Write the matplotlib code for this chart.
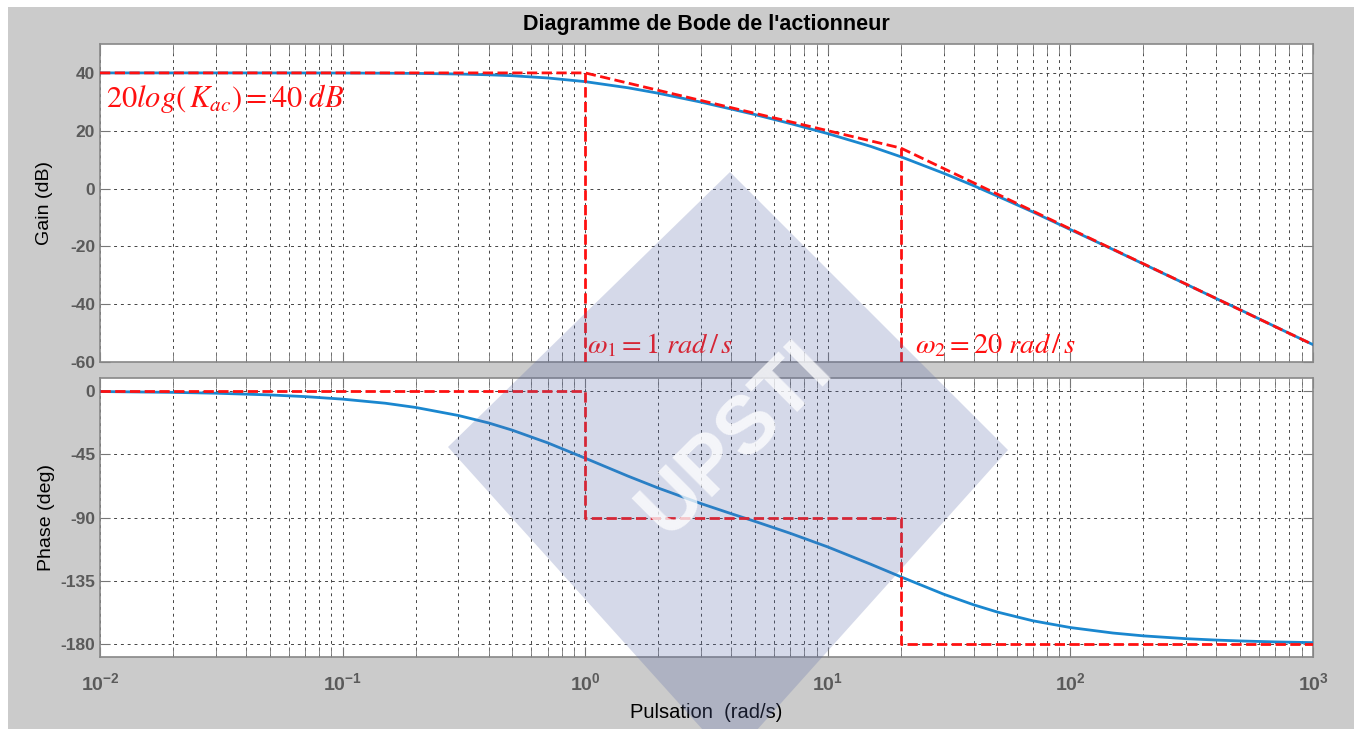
import matplotlib.pyplot as plt
from matplotlib.patches import Rectangle, Polygon
from matplotlib.ticker import LogLocator, NullFormatter

# Frequency response
w = [0.01, 0.02, 0.03, 0.05, 0.07, 0.1, 0.15, 0.2, 0.3, 0.4, 0.5, 0.7, 1, 1.5,
     2, 3, 4, 5, 7, 10, 15, 20, 30, 40, 50, 70, 100, 150, 200, 300, 400, 500,
     700, 1000]
gain = [40.0, 40.0, 40.0, 39.99, 39.98, 39.96, 39.9, 39.83, 39.62, 39.35,
        39.03, 38.25, 36.98, 34.86, 32.97, 29.9, 27.5, 25.6, 22.5, 19.0, 14.6,
        11.0, 5.3, 0.97, -2.6, -8.1, -14.2, -21.1, -26.1, -33.1, -38.1, -41.9,
        -47.8, -54.0]
phase = [-0.6, -1.2, -1.8, -3.0, -4.2, -6.0, -8.9, -11.9, -17.6, -22.9, -28.0,
         -37.0, -47.9, -60.6, -69.1, -80.1, -87.3, -92.7, -101.2, -110.9,
         -123.1, -132.1, -144.4, -152.0, -157.1, -163.3, -168.1, -172.0,
         -174.0, -176.0, -177.0, -177.6, -178.3, -178.8]

# Asymptotic diagram
w_asym = [0.01, 1, 20, 1000]
gain_asym = [40, 40, 14, -54]
w_phase_asym = [0.01, 1, 1, 20, 20, 1000]
phase_asym = [0, 0, -90, -90, -180, -180]
w_corner = [1, 20]
gain_corner = [40, 14]

blue = '#1a87cf'
red = '#ff1010'
tick_gray = '#5a5a5a'

plt.rcParams['mathtext.fontset'] = 'stix'
plt.rcParams['axes.unicode_minus'] = False
plt.rcParams['font.family'] = ['Liberation Sans', 'DejaVu Sans']

fig = plt.figure(figsize=(13.54, 7.29), dpi=100, facecolor='white')
fig.patches.append(Rectangle((8 / 1354, 0), 1, 1 - 7 / 729, transform=fig.transFigure,
                             facecolor='#cbcbcb', edgecolor='none', zorder=-10))

ax1 = fig.add_axes([100 / 1354, 1 - 362 / 729, 1213 / 1354, 318 / 729])
ax2 = fig.add_axes([100 / 1354, 1 - 657 / 729, 1213 / 1354, 279 / 729])


def style(ax):
    ax.set_xscale('log')
    ax.set_xlim(0.01, 1000)
    ax.set_facecolor('white')
    ax.xaxis.set_major_locator(LogLocator(base=10, numticks=10))
    ax.xaxis.set_minor_locator(LogLocator(base=10, subs=range(2, 10), numticks=20))
    ax.xaxis.set_minor_formatter(NullFormatter())
    ax.grid(True, which='major', color='#444444', linestyle=(0, (3, 4)), linewidth=0.7)
    ax.grid(True, which='minor', axis='x', color='#444444', linestyle=(0, (3, 4)), linewidth=0.7)
    ax.tick_params(which='both', direction='in', top=True, right=True, length=7,
                   color='#777777', labelcolor=tick_gray, labelsize=12.5)
    ax.tick_params(axis='x', pad=11, labelsize=14)
    for s in ax.spines.values():
        s.set_color('#888888')
        s.set_linewidth(1.2)


style(ax1)
style(ax2)

# Gain
ax1.plot(w, gain, color=blue, linewidth=2, zorder=3)
ax1.plot(w_asym, gain_asym, color=red, linestyle='--', linewidth=2, zorder=4)
ax1.vlines(w_corner, -60, gain_corner, color=red, linestyle='--', linewidth=2, zorder=4)
ax1.set_ylim(-60, 50)
ax1.set_yticks([-60, -40, -20, 0, 20, 40])
ax1.tick_params(axis='x', labelbottom=False)
ax1.set_ylabel('Gain (dB)', fontsize=14, labelpad=12)
ax1.set_title("Diagramme de Bode de l'actionneur", fontsize=15.5, fontweight='bold', pad=10)

ax1.text(0.0106, 28.2, r'$20log\left(\,K_{ac}\right) = 40\ dB$', color=red,
         fontsize=22, va='baseline', ha='left')
ax1.text(1.02, -57, r'$\omega_1 = 1\ rad\,/\,s$', color=red, fontsize=20.5,
         va='baseline', ha='left')
ax1.text(22.8, -57, r'$\omega_2 = 20\ rad\,/\,s$', color=red, fontsize=20.5,
         va='baseline', ha='left')

# Phase
ax2.plot(w, phase, color=blue, linewidth=2, zorder=3)
ax2.plot(w_phase_asym, phase_asym, color=red, linestyle='--', linewidth=2, zorder=4)
ax2.set_ylim(-189, 9)
ax2.set_yticks([-180, -135, -90, -45, 0])
ax2.set_ylabel('Phase (deg)', fontsize=14, labelpad=4)
ax2.set_xlabel('Pulsation  (rad/s)', fontsize=14.5, labelpad=6)

for ax in (ax1, ax2):
    for lab in ax.get_xticklabels() + ax.get_yticklabels():
        lab.set_fontweight('bold')

# Watermark
W, H = 1354, 729
diamond = [(448 / W, 1 - 447 / H), (730 / W, 1 - 172 / H), (1008 / W, 1 - 450 / H), (730 / W, 1 - 760 / H)]
fig.patches.append(Polygon(diamond, closed=True, transform=fig.transFigure,
                           facecolor='#5a6aa8', alpha=0.25, edgecolor='none', zorder=20))
fig.text(735 / W, 1 - 440 / H, 'UPSTI', rotation=45, fontsize=58, fontweight='bold',
         color='white', alpha=0.75, ha='center', va='center', zorder=21)

fig.savefig('out.png', dpi=100, facecolor=fig.get_facecolor())
